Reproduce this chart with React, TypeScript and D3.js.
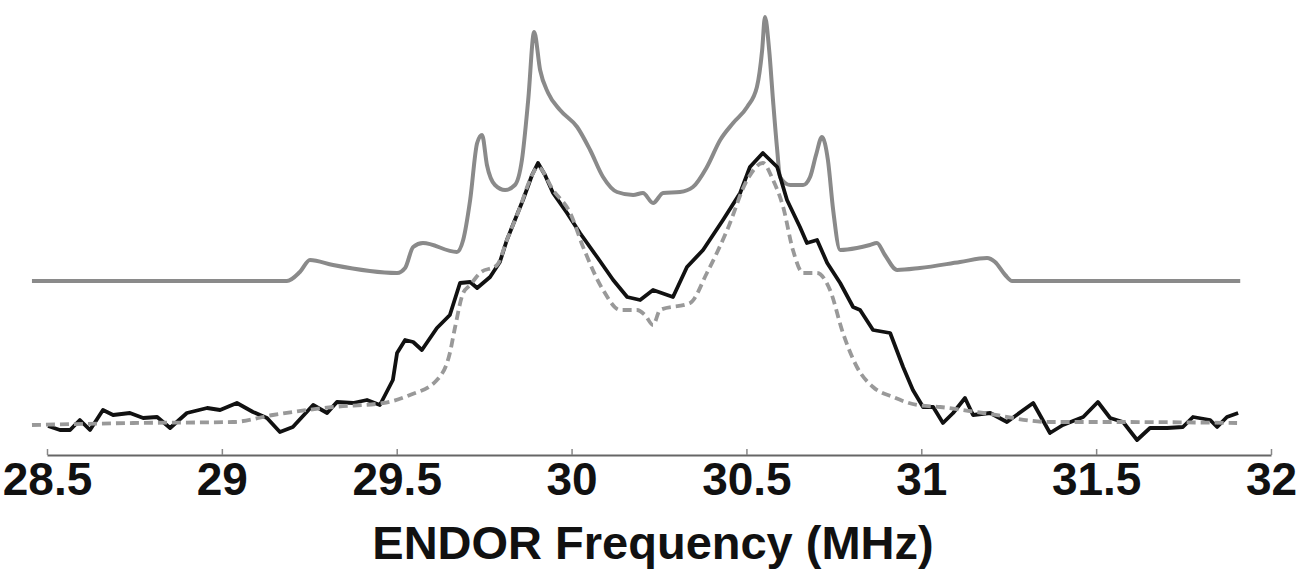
import React, { useEffect, useRef } from 'react'
import * as d3 from 'd3'

// simulated spectrum (gray, offset upward)
const simFreq = [28.457, 29.186, 29.223, 29.252, 29.318, 29.501, 29.524, 29.547, 29.575, 29.672, 29.69, 29.71, 29.73, 29.744, 29.758, 29.781, 29.81, 29.838, 29.858, 29.876, 29.893, 29.91, 29.933, 29.967, 30.016, 30.053, 30.09, 30.13, 30.176, 30.204, 30.233, 30.262, 30.31, 30.347, 30.387, 30.425, 30.462, 30.502, 30.53, 30.545, 30.553, 30.565, 30.576, 30.588, 30.596, 30.625, 30.662, 30.682, 30.699, 30.716, 30.733, 30.748, 30.768, 30.816, 30.853, 30.873, 30.896, 30.931, 30.996, 31.111, 31.188, 31.211, 31.24, 31.26, 31.912]
const simValue = [1.44, 1.44, 1.53, 1.65, 1.6, 1.52, 1.57, 1.78, 1.82, 1.73, 1.85, 2.25, 2.82, 2.9, 2.6, 2.4, 2.35, 2.4, 2.65, 3.25, 3.93, 3.55, 3.32, 3.15, 2.98, 2.75, 2.48, 2.33, 2.3, 2.32, 2.22, 2.32, 2.33, 2.38, 2.58, 2.85, 3.02, 3.18, 3.38, 3.75, 4.08, 3.75, 3.25, 2.75, 2.48, 2.4, 2.4, 2.48, 2.7, 2.88, 2.65, 2.15, 1.75, 1.77, 1.8, 1.82, 1.7, 1.55, 1.57, 1.63, 1.67, 1.63, 1.5, 1.44, 1.44]

// experimental spectrum (black)
const expFreq = [28.503, 28.537, 28.566, 28.594, 28.623, 28.66, 28.689, 28.737, 28.775, 28.815, 28.852, 28.9, 28.958, 28.995, 29.043, 29.089, 29.129, 29.166, 29.203, 29.261, 29.301, 29.329, 29.375, 29.415, 29.452, 29.489, 29.501, 29.524, 29.547, 29.572, 29.615, 29.652, 29.681, 29.71, 29.73, 29.767, 29.795, 29.815, 29.861, 29.887, 29.904, 29.924, 29.947, 29.987, 30.024, 30.073, 30.119, 30.159, 30.196, 30.233, 30.29, 30.33, 30.376, 30.433, 30.482, 30.51, 30.547, 30.588, 30.616, 30.653, 30.673, 30.702, 30.731, 30.768, 30.805, 30.825, 30.862, 30.911, 30.948, 30.976, 31.005, 31.034, 31.062, 31.091, 31.125, 31.148, 31.197, 31.245, 31.32, 31.368, 31.405, 31.463, 31.505, 31.54, 31.577, 31.617, 31.654, 31.703, 31.748, 31.777, 31.826, 31.846, 31.874, 31.906]
const expValue = [-0.01, -0.05, -0.05, 0.05, -0.05, 0.15, 0.1, 0.12, 0.07, 0.08, -0.03, 0.12, 0.17, 0.15, 0.22, 0.13, 0.07, -0.07, -0.02, 0.2, 0.12, 0.23, 0.22, 0.25, 0.2, 0.45, 0.72, 0.85, 0.83, 0.75, 0.97, 1.1, 1.42, 1.43, 1.37, 1.48, 1.63, 1.85, 2.25, 2.5, 2.62, 2.5, 2.32, 2.12, 1.92, 1.68, 1.45, 1.28, 1.25, 1.35, 1.28, 1.58, 1.75, 2.05, 2.32, 2.58, 2.72, 2.58, 2.25, 1.98, 1.82, 1.85, 1.62, 1.42, 1.18, 1.15, 0.95, 0.92, 0.58, 0.35, 0.18, 0.18, 0.02, 0.12, 0.27, 0.1, 0.12, 0.03, 0.22, -0.08, 0, 0.08, 0.23, 0.07, 0.03, -0.15, -0.03, -0.03, -0.02, 0.08, 0.05, -0.02, 0.08, 0.12]

// fitted spectrum (gray dashed)
const fitFreq = [28.457, 28.746, 29.032, 29.146, 29.318, 29.461, 29.538, 29.615, 29.652, 29.667, 29.69, 29.71, 29.738, 29.787, 29.815, 29.853, 29.881, 29.904, 29.947, 29.996, 30.033, 30.09, 30.139, 30.187, 30.21, 30.233, 30.253, 30.339, 30.387, 30.445, 30.502, 30.547, 30.576, 30.605, 30.633, 30.662, 30.702, 30.739, 30.776, 30.816, 30.862, 30.919, 30.988, 31.054, 31.177, 31.368, 31.56, 31.903]
const fitValue = [0, 0.02, 0.03, 0.1, 0.18, 0.22, 0.3, 0.45, 0.72, 0.98, 1.32, 1.4, 1.52, 1.6, 1.85, 2.18, 2.45, 2.58, 2.35, 2.12, 1.78, 1.35, 1.15, 1.15, 1.1, 1.0, 1.15, 1.22, 1.52, 1.95, 2.45, 2.62, 2.45, 2.18, 1.75, 1.52, 1.52, 1.35, 0.92, 0.58, 0.38, 0.28, 0.2, 0.18, 0.12, 0.03, 0.03, 0.02]

const xTicks = [28.5, 29, 29.5, 30, 30.5, 31, 31.5, 32]

const App = () => {
    const svgRef = useRef()

    useEffect(() => {
        document.body.style.margin = '0'
        const svg = d3.select(svgRef.current)
        svg.selectAll('*').remove()

        const width = 1304
        const height = 572
        const axisY = 455

        const x = d3.scaleLinear().domain([28.5, 32]).range([47, 1271])
        const y = d3.scaleLinear().domain([0, 4]).range([425, 25])

        const toPts = (fs, vs) => fs.map((f, i) => [f, vs[i]])

        const line = d3.line().x(d => x(d[0])).y(d => y(d[1]))
        const smooth = d3.line().x(d => x(d[0])).y(d => y(d[1])).curve(d3.curveMonotoneX)

        svg.append('rect').attr('width', width).attr('height', height).attr('fill', '#fff')

        // simulation
        svg.append('path')
            .datum(toPts(simFreq, simValue))
            .attr('d', smooth)
            .attr('fill', 'none')
            .attr('stroke', '#8a8a8a')
            .attr('stroke-width', 4)
            .attr('stroke-linejoin', 'round')

        // experiment
        svg.append('path')
            .datum(toPts(expFreq, expValue))
            .attr('d', line)
            .attr('fill', 'none')
            .attr('stroke', '#111')
            .attr('stroke-width', 3.8)
            .attr('stroke-linejoin', 'round')

        // fit
        svg.append('path')
            .datum(toPts(fitFreq, fitValue))
            .attr('d', smooth)
            .attr('fill', 'none')
            .attr('stroke', '#999')
            .attr('stroke-width', 3.8)
            .attr('stroke-dasharray', '9 5')

        // x axis
        const axis = svg.append('g')
            .attr('transform', `translate(0,${axisY})`)
            .call(d3.axisBottom(x).tickValues(xTicks).tickSizeInner(-6).tickSizeOuter(0).tickPadding(7).tickFormat(d3.format('')))
        axis.select('.domain').attr('stroke', '#666').attr('stroke-width', 2)
        axis.selectAll('.tick line').attr('stroke', '#888').attr('stroke-width', 1.5)
        axis.selectAll('.tick text')
            .attr('fill', '#111')
            .attr('dy', '0.72em')
            .style('font', 'bold 46px "Liberation Sans", Arial, sans-serif')

        svg.append('text')
            .attr('x', 653)
            .attr('y', 559)
            .attr('text-anchor', 'middle')
            .attr('fill', '#111')
            .style('font', 'bold 47px "Liberation Sans", Arial, sans-serif')
            .text('ENDOR Frequency (MHz)')
    }, [])

    return (
        <svg ref={svgRef} width={1304} height={572} style={{ display: 'block' }} />
    )
}

export default App
